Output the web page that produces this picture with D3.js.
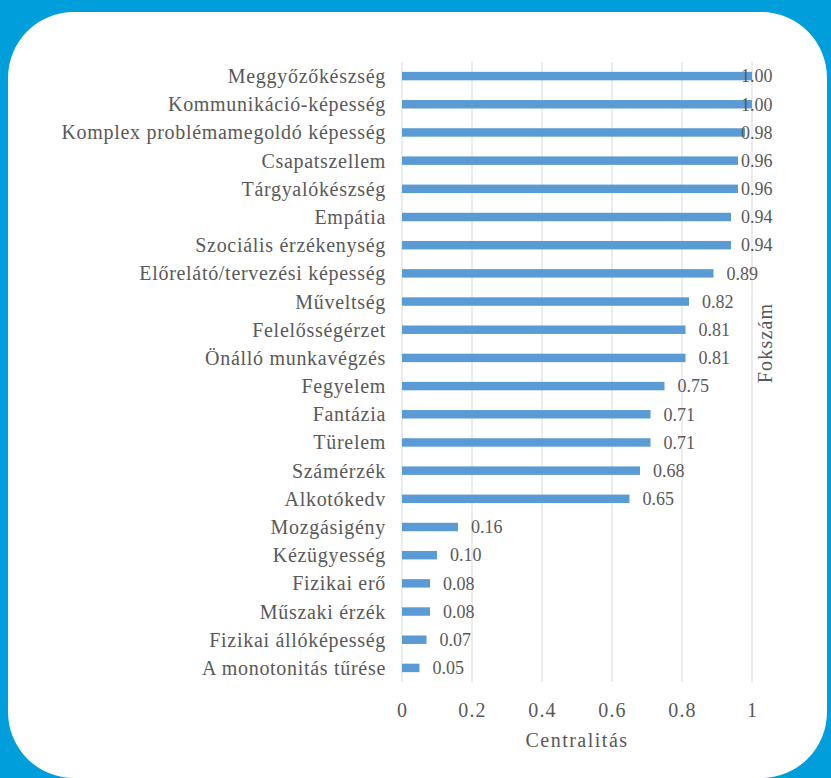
<!DOCTYPE html>
<html>
<head>
<meta charset="utf-8">
<script src="https://cdn.jsdelivr.net/npm/d3@7"></script>
<style>
  html, body { margin: 0; padding: 0; background: #009FDC; }
  svg { display: block; }
</style>
</head>
<body>
<svg id="chart" width="831" height="778"></svg>
<script>
// Skills ranked by degree centrality
const categories = [
  "Meggyőzőkészség", "Kommunikáció-képesség", "Komplex problémamegoldó képesség",
  "Csapatszellem", "Tárgyalókészség", "Empátia", "Szociális érzékenység",
  "Előrelátó/tervezési képesség", "Műveltség", "Felelősségérzet", "Önálló munkavégzés",
  "Fegyelem", "Fantázia", "Türelem", "Számérzék", "Alkotókedv", "Mozgásigény",
  "Kézügyesség", "Fizikai erő", "Műszaki érzék", "Fizikai állóképesség",
  "A monotonitás tűrése"
];
const values = [
  1.00, 1.00, 0.98, 0.96, 0.96, 0.94, 0.94, 0.89, 0.82, 0.81, 0.81,
  0.75, 0.71, 0.71, 0.68, 0.65, 0.16, 0.10, 0.08, 0.08, 0.07, 0.05
];
const tickValues = [0, 0.2, 0.4, 0.6, 0.8, 1];
const tickLabels = ["0", "0.2", "0.4", "0.6", "0.8", "1"];
const xTitle = "Centralitás";
const sideTitle = "Fokszám";

const FONT = "'Liberation Serif', 'Times New Roman', serif";
const INK = "#595959";

const svg = d3.select("#chart");

// white card with rounded corners on the blue background
svg.append("rect")
  .attr("x", 8).attr("y", 12)
  .attr("width", 819).attr("height", 766)
  .attr("rx", 66).attr("ry", 66)
  .attr("fill", "#ffffff");

const plot = { left: 402, right: 752, top: 62, bottom: 682 };

const x = d3.scaleLinear().domain([0, 1]).range([plot.left, plot.right]);
const y = d3.scaleBand().domain(categories).range([plot.top, plot.bottom]).paddingInner(0.7).paddingOuter(0.35);

// vertical gridlines
svg.append("g")
  .selectAll("line")
  .data(tickValues)
  .join("line")
  .attr("x1", d => x(d)).attr("x2", d => x(d))
  .attr("y1", plot.top).attr("y2", plot.bottom)
  .attr("stroke", "#D9D9D9").attr("stroke-width", 1);

// bars
svg.append("g")
  .selectAll("rect")
  .data(categories)
  .join("rect")
  .attr("x", x(0))
  .attr("y", d => y(d))
  .attr("width", (d, i) => x(values[i]) - x(0))
  .attr("height", y.bandwidth())
  .attr("fill", "#5B9BD5");

// value labels, kept inside the plot on the right
const labelMax = x(1) - 11;
svg.append("g")
  .selectAll("text")
  .data(categories)
  .join("text")
  .attr("x", (d, i) => Math.min(x(values[i]) + 13, labelMax))
  .attr("y", d => y(d) + y.bandwidth() / 2)
  .attr("dy", "0.35em")
  .attr("font-family", FONT)
  .attr("fill", INK)
  .attr("font-size", 18)
  .text((d, i) => values[i].toFixed(2));

// category labels
svg.append("g")
  .selectAll("text")
  .data(categories)
  .join("text")
  .attr("x", plot.left - 16)
  .attr("y", d => y(d) + y.bandwidth() / 2)
  .attr("dy", "0.35em")
  .attr("text-anchor", "end")
  .attr("font-family", FONT)
  .attr("fill", INK)
  .attr("font-size", 20)
  .attr("letter-spacing", "0.7px")
  .text(d => d);

// x axis tick labels
const axis = d3.axisBottom(x)
  .tickValues(tickValues)
  .tickFormat((d, i) => tickLabels[i])
  .tickSize(0)
  .tickPadding(0);
const axisG = svg.append("g")
  .attr("transform", `translate(0, ${plot.bottom})`)
  .attr("font-family", FONT)
  .call(axis);
axisG.select(".domain").remove();
axisG.selectAll("text")
  .attr("y", 28)
  .attr("dy", "0.35em")
  .attr("font-size", 20)
  .attr("letter-spacing", "1.2px")
  .attr("font-family", FONT)
  .attr("fill", INK);

// axis title
svg.append("text")
  .attr("x", (plot.left + plot.right) / 2)
  .attr("y", 740)
  .attr("dy", "0.35em")
  .attr("text-anchor", "middle")
  .attr("font-family", FONT)
  .attr("fill", INK)
  .attr("font-size", 20)
  .attr("letter-spacing", "1.5px")
  .text(xTitle);

// secondary title on the right, rotated
svg.append("text")
  .attr("transform", "translate(765, 343) rotate(-90)")
  .attr("dy", "0.35em")
  .attr("text-anchor", "middle")
  .attr("font-family", FONT)
  .attr("fill", INK)
  .attr("font-size", 20)
  .attr("letter-spacing", "1.2px")
  .text(sideTitle);
</script>
</body>
</html>
